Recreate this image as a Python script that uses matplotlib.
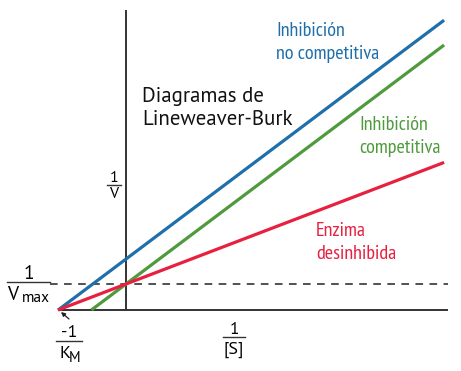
import numpy as np
import matplotlib
matplotlib.use("Agg")
from matplotlib import pyplot as plt
from matplotlib.lines import Line2D

# Lineweaver-Burk: 1/V = slope * 1/[S] + intercept
series_names = ["Inhibición\nno competitiva", "Inhibición\ncompetitiva", "Enzima\ndesinhibida"]
series_colors = ["#1f6fab", "#4f9a3c", "#e8203f"]
slopes = [1.906, 1.907, 0.97]
intercepts = [1.96, 1.0, 1.0]
x_start = [-1.03, -0.524, -1.03]
x_end = 4.82

inv_km = -1.03
inv_vmax = 1.0

W, H = 461, 371
FONT = ["PT Sans", "DejaVu Sans"]
FONT_NARROW = ["PT Sans Narrow", "PT Sans", "DejaVu Sans"]

fig = plt.figure(figsize=(W / 100, H / 100), dpi=100)
ax = fig.add_axes([0, 0, 1, 1])
# 66 px per x unit, 26 px per y unit, origin at pixel (126, 310)
ax.set_xlim(-126 / 66, (W - 126) / 66)
ax.set_ylim((310 - H) / 26, 310 / 26)
ax.axis("off")

# axes
ax.plot([inv_km, 4.88], [0, 0], color="#333333", lw=1.4, solid_capstyle="butt")
ax.plot([0, 0], [0, 11.55], color="#333333", lw=1.4, solid_capstyle="butt")
ax.plot([-1.15, 4.88], [inv_vmax, inv_vmax], color="#222222", lw=1.1,
        dashes=(5, 4.2))

for s, b, x0, c in zip(slopes, intercepts, x_start, series_colors):
    xs = np.array([x0, x_end])
    ax.plot(xs, s * xs + b, color=c, lw=2.3, solid_capstyle="butt")


def px(x, y):
    return x / W, 1 - y / H


def fig_text(x, y, s, **kw):
    kw.setdefault("family", FONT)
    kw.setdefault("va", "baseline")
    fig.text(*px(x, y), s, **kw)


def bar(x0, x1, y):
    (a, yy), (b, _) = px(x0, y), px(x1, y)
    fig.add_artist(Line2D([a, b], [yy, yy], color="#333333", lw=1.0))


# series labels, one text per line
label_pos = [(276, 36), (359, 130), (316, 236)]
for name, c, (lx, ly) in zip(series_names, series_colors, label_pos):
    for i, part in enumerate(name.split("\n")):
        fig_text(lx, ly + 23 * i, part, color=c, fontsize=14.5,
                 family=FONT_NARROW)

# title
fig_text(142, 102, "Diagramas de", fontsize=15, color="#111111")
fig_text(142, 125, "Lineweaver-Burk", fontsize=15, color="#111111")

# 1/V
fig_text(114, 182, "1", fontsize=11.5, ha="center")
bar(107, 121, 185)
fig_text(114, 198, "V", fontsize=11.5, ha="center")

# 1/[S]
fig_text(234, 334, "1", fontsize=12.5, ha="center")
bar(223, 245, 337)
fig_text(234, 354, "[S]", fontsize=13, ha="center")

# 1/Vmax
fig_text(29, 279, "1", fontsize=14, ha="center")
bar(7, 50, 282)
fig_text(7, 300, "V", fontsize=14, ha="left")
fig_text(22, 302, "max", fontsize=11, ha="left")

# -1/KM
fig_text(69, 337, "-1", fontsize=13, ha="center")
bar(56, 82, 341)
fig_text(59, 358, "K", fontsize=13, ha="left")
fig_text(69, 362, "M", fontsize=10.5, ha="left")

ax.annotate("", xy=px(61, 312), xytext=px(69, 319), xycoords="figure fraction",
            textcoords="figure fraction",
            arrowprops=dict(arrowstyle="-|>", color="#222222", lw=0.9,
                            mutation_scale=6, shrinkA=0, shrinkB=0))

fig.savefig("out.png", dpi=100)
